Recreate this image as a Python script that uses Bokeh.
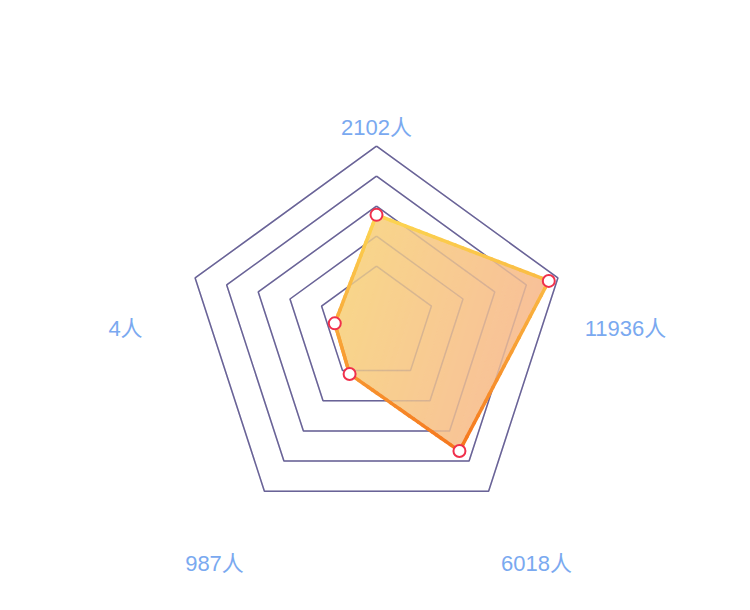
import numpy as np
from bokeh.plotting import figure
from bokeh.models import Range1d
from bokeh.core.properties import value
from bokeh.embed import file_html
from bokeh.resources import INLINE

# ---------------- data ----------------
axis_names = ["2102人", "11936人", "6018人", "987人", "4人"]
series_values = [64, 95, 74, 24, 23]
max_value = 100
ring_levels = [1.0, 0.826, 0.652, 0.477, 0.303]

# ---------------- layout / style ----------------
W, H = 750, 610
CX, CY, R = 376.0, 336.4, 190.7
TILT = 0.098            # inner rings are lifted a little
LABEL_OFFSETS = [(0, -209), (249, -8.5), (160, 227), (-162, 227), (-251, -8.5)]
RING_COLOR = "#6a6398"
LABEL_COLOR = "#7aa9f0"
FILL_C0 = np.array([248, 217, 136])
FILL_C1 = np.array([248, 187, 156])
LINE_C0 = np.array([252, 214, 82])
LINE_C1 = np.array([245, 118, 30])
POINT_COLOR = "#f0304c"

n = len(axis_names)
theta = np.arange(n) * 2 * np.pi / n


def hexcol(c):
    c = np.clip(np.round(c), 0, 255).astype(int)
    return "#%02x%02x%02x" % tuple(c)


p = figure(width=W, height=H, x_range=Range1d(0, W), y_range=Range1d(H, 0),
           output_backend="svg", toolbar_location=None,
           x_axis_location=None, y_axis_location=None, min_border=0)
p.grid.visible = False
p.outline_line_color = None
p.background_fill_color = "white"
p.border_fill_color = "white"

# rings
ring_xs, ring_ys = [], []
for lv in ring_levels:
    r = lv * R
    cy = CY - TILT * (R - r)
    xs = list(CX + r * np.sin(theta)) + [CX + r * np.sin(theta[0])]
    ys = list(cy - r * np.cos(theta)) + [cy - r * np.cos(theta[0])]
    ring_xs.append(xs)
    ring_ys.append(ys)
p.multi_line(ring_xs, ring_ys, line_color=RING_COLOR, line_width=1.5)

# data polygon
rad = np.array(series_values) / max_value * R
px = CX + rad * np.sin(theta)
py = CY - rad * np.cos(theta)
poly = list(zip(px, py))

xmin, xmax, ymin, ymax = px.min(), px.max(), py.min(), py.max()
wx, wy = 0.75, 0.25
a, b = wx / (xmax - xmin), wy / (ymax - ymin)
const = a * xmin + b * ymin


def clip(pg, aa, bb, cc):
    out = []
    m = len(pg)
    for i in range(m):
        P, Q = pg[i], pg[(i + 1) % m]
        fp = aa * P[0] + bb * P[1] - cc
        fq = aa * Q[0] + bb * Q[1] - cc
        if fp >= 0:
            out.append(P)
        if (fp >= 0) != (fq >= 0):
            s = fp / (fp - fq)
            out.append((P[0] + s * (Q[0] - P[0]), P[1] + s * (Q[1] - P[1])))
    return out


NS = 60
sx, sy, sc = [], [], []
for k in range(NS):
    t0, t1 = k / NS, (k + 1) / NS
    pg = clip(poly, a, b, t0 + const)
    if len(pg) < 3:
        continue
    pg = clip(pg, -a, -b, -(t1 + const))
    if len(pg) < 3:
        continue
    sx.append([q[0] for q in pg])
    sy.append([q[1] for q in pg])
    tm = (t0 + t1) / 2
    sc.append(hexcol(FILL_C0 + (FILL_C1 - FILL_C0) * tm))
p.patches(sx, sy, fill_color=sc, line_color=sc, line_width=1)

# rings seen through the fill
p.multi_line(ring_xs, ring_ys, line_color=RING_COLOR, line_width=1.5, line_alpha=0.22)

# gradient outline
segx0, segy0, segx1, segy1, segc = [], [], [], [], []
NSEG = 24
for i in range(n):
    x0, y0 = poly[i]
    x1, y1 = poly[(i + 1) % n]
    for j in range(NSEG):
        s0, s1 = j / NSEG, (j + 1) / NSEG
        ax, ay = x0 + (x1 - x0) * s0, y0 + (y1 - y0) * s0
        bx, by = x0 + (x1 - x0) * s1, y0 + (y1 - y0) * s1
        tm = ((ay + by) / 2 - ymin) / (ymax - ymin)
        segx0.append(ax); segy0.append(ay); segx1.append(bx); segy1.append(by)
        segc.append(hexcol(LINE_C0 + (LINE_C1 - LINE_C0) * tm))
p.segment(segx0, segy0, segx1, segy1, line_color=segc, line_width=3.5, line_cap="round")

# points
p.scatter(px, py, marker="circle", size=12, fill_color="white",
          line_color=POINT_COLOR, line_width=2)

# labels
lx = [CX + o[0] for o in LABEL_OFFSETS]
ly = [CY + o[1] for o in LABEL_OFFSETS]
p.text(lx, ly, text=axis_names, text_align="center", text_baseline="middle",
       text_font=value("Liberation Sans, Noto Sans CJK SC"), text_font_size="22px",
       text_color=LABEL_COLOR)

open("out.html", "w").write(file_html(p, INLINE))
